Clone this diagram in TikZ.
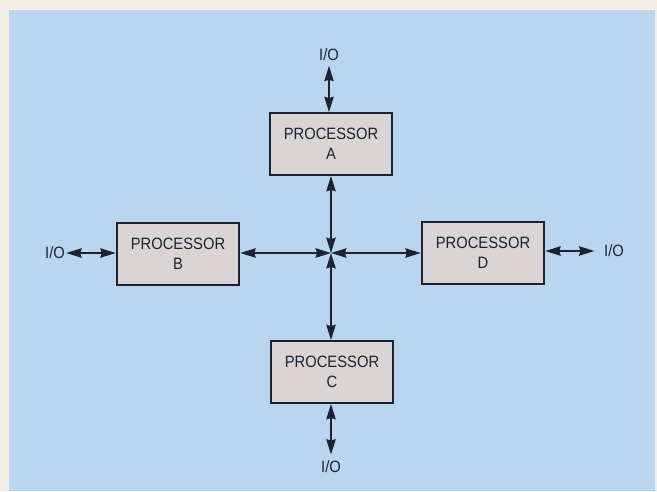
\documentclass[tikz,border=0pt]{standalone}
\usepackage{fontspec}
\setmainfont{Liberation Sans}[FakeStretch=0.9]
\usetikzlibrary{arrows.meta, positioning}
\definecolor{paperbg}{RGB}{243,238,228}
\definecolor{skyblue}{RGB}{185,213,240}
\definecolor{boxgray}{RGB}{218,212,212}
\definecolor{inkline}{RGB}{28,34,50}

\begin{document}
\begin{tikzpicture}[
    x=0.03cm, y=-0.03cm,
    processor/.style={
      draw=inkline, line width=1.6pt, fill=boxgray,
      minimum width=3.68cm, minimum height=1.86cm,
      inner sep=2pt, align=center, text=inkline,
      font=\fontsize{14}{17.5}\selectfont
    },
    iolabel/.style={font=\fontsize{14}{16}\selectfont, text=inkline, inner sep=1pt},
    link/.style={{Stealth[length=4.6mm, width=2.8mm, inset=0.4mm]}-{Stealth[length=4.6mm, width=2.8mm, inset=0.4mm]},
      line width=1.5pt, draw=inkline}
  ]
    % Paper and blue panel
    \fill[paperbg] (0,0) rectangle (657,491);
    \fill[skyblue] (9,10) rectangle (655,491);

    % Processors
    \node[processor] (procA) at (331,144) {PROCESSOR\\A};
    \node[processor] (procB) at (178,254) {PROCESSOR\\B};
    \node[processor] (procC) at (332,372) {PROCESSOR\\C};
    \node[processor] (procD) at (483,253) {PROCESSOR\\D};
    \coordinate (hub) at (331,253);

    % I/O labels
    \node[iolabel] (ioA) at (329,55) {I/O};
    \node[iolabel] (ioB) at (55,253) {I/O};
    \node[iolabel] (ioC) at (331,467) {I/O};
    \node[iolabel] (ioD) at (614,251) {I/O};

    % Links to the hub
    \draw[link] (hub) -- (procA.south);
    \draw[link] (hub) -- (procC.north -| hub);
    \draw[link] (hub) -- (procB.east |- hub);
    \draw[link] (hub) -- (procD.west |- hub);

    % I/O links
    \draw[link] ([yshift=-0.1cm]ioA.south) -- (ioA.south |- procA.north);
    \draw[link] ([yshift=0.15cm]ioC.north) -- (ioC.north |- procC.south);
    \draw[link] (ioB.east) -- (procB.west |- ioB.east);
    \draw[link] ([xshift=-0.25cm]ioD.west) -- (procD.east |- ioD.west);
  \end{tikzpicture}
\end{document}
